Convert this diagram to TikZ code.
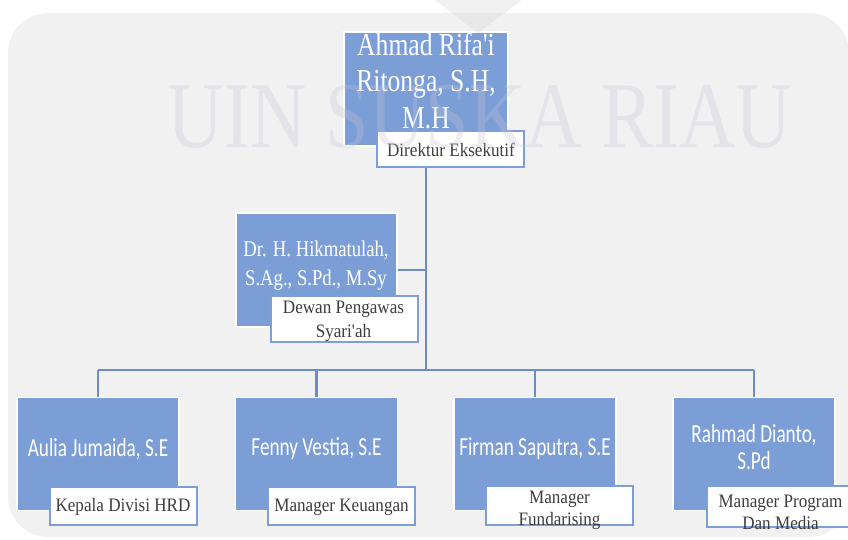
\documentclass[tikz,border=0pt]{standalone}
\usepackage{fontspec}
\newfontfamily\nameserif[FakeStretch=0.80]{Liberation Serif}
\newfontfamily\drserif[FakeStretch=0.83]{Liberation Serif}
\newfontfamily\labserif[FakeStretch=0.90]{Liberation Serif}
\newfontfamily\namesans[FakeStretch=0.74]{Carlito}
\newfontfamily\wmserif[FakeStretch=0.83]{Liberation Serif}
\definecolor{bgray}{RGB}{241,241,241}
\definecolor{boxblue}{RGB}{124,158,214}
\definecolor{linkblue}{RGB}{108,140,200}
\definecolor{labline}{RGB}{126,158,215}
\definecolor{labtext}{RGB}{62,62,62}
\definecolor{wmark}{RGB}{197,197,215}
\definecolor{wtri}{RGB}{220,220,220}
\pgfdeclarelayer{panel}
\pgfdeclarelayer{links}
\pgfsetlayers{panel,links,main}
\tikzset{
  pbox/.style={fill=boxblue, draw=white, line width=1.5pt, inner sep=0pt,
    minimum width=162pt, minimum height=113pt},
  lbox/.style={fill=white, draw=labline, line width=1.5pt, inner sep=0pt,
    minimum width=147pt},
  conn/.style={draw=linkblue, line width=2.2pt},
  nametxt/.style={text=white, align=center, inner sep=0pt},
  labtxt/.style={text=labtext, align=center, inner sep=0pt,
    font=\labserif\fontsize{19}{22}\selectfont},
  sanstxt/.style={nametxt, font=\namesans\fontsize{26}{27}\selectfont}
}
\begin{document}
\begin{tikzpicture}[x=1pt,y=-1pt]
\useasboundingbox (0,0) rectangle (848,539);
% background panel
\begin{pgfonlayer}{panel}
\fill[bgray, rounded corners=40pt] (8,13) rectangle (849,537);
\end{pgfonlayer}

\coordinate (bus) at (426,370);

% person boxes
\path (426,89) node[pbox, minimum width=164pt, minimum height=114pt] (dir) {};
\path (316.5,270) node[pbox, minimum width=161pt, minimum height=114pt] (dr) {};
\path (98,454) node[pbox] (p1) {};
\path (316.5,454) node[pbox] (p2) {};
\path (535,454) node[pbox] (p3) {};
\path (754,454) node[pbox] (p4) {};

% connectors (under the boxes)
\begin{pgfonlayer}{links}
\draw[conn] (dir.center) -- (bus);
\draw[conn] (dr.east) -- (dr.east -| bus);
\draw[conn] (p1.north |- bus) -- (p4.north |- bus);
\draw[conn] (p1.north) -- (p1.north |- bus);
\draw[conn] (p2.north) -- (p2.north |- bus);
\draw[conn] (p3.north) -- (p3.north |- bus);
\draw[conn] (p4.north) -- (p4.north |- bus);
\end{pgfonlayer}

% names
\node[nametxt, font=\nameserif\fontsize{32}{36.5}\selectfont] (dirname) at (426,80.5)
  {Ahmad Rifa'i\\Ritonga, S.H,\\M.H};
\node[nametxt, font=\drserif\fontsize{22.5}{29}\selectfont] (drname) at (316,266)
  {Dr. H. Hikmatulah,\\S.Ag., S.Pd., M.Sy};
\node[sanstxt] (p1name) at (98,449) {Aulia Jumaida, S.E};
\node[sanstxt] (p2name) at (316.5,449) {Fenny Vestia, S.E};
\node[sanstxt] (p3name) at (535,449) {Firman Saputra, S.E};
\node[sanstxt] (p4name) at (754,447) {Rahmad Dianto,\\S.Pd};

% role labels
\node[lbox, minimum height=36pt] (dirlab) at (450.5,149) {};
\node[labtxt] (dirlabt) at (451,150) {Direktur Eksekutif};
\node[lbox, minimum height=46pt] (drlab) at (344.5,319) {};
\node[labtxt, font=\labserif\fontsize{19}{24}\selectfont] (drlabt) at (343.5,321) {Dewan Pengawas\\Syari'ah};
\node[lbox, minimum height=38pt] (l1) at (123.5,506) {};
\node[labtxt] (l1t) at (123,507) {Kepala Divisi HRD};
\node[lbox, minimum height=38pt] (l2) at (341.5,506) {};
\node[labtxt] (l2t) at (341.5,507) {Manager Keuangan};
\node[lbox, minimum height=39pt] (l3) at (559.5,505.5) {};
\node[labtxt] (l3t) at (559.5,510) {Manager\\Fundarising};
\node[lbox, minimum height=41pt] (l4) at (780.5,506.5) {};
\node[labtxt] (l4t) at (780.5,512) {Manager Program\\Dan Media};

% faint watermark
\fill[wtri, opacity=0.43] (435,0) -- (522,0) -- (478,33) -- cycle;
\node[text=wmark, opacity=0.3, inner sep=0pt, anchor=base,
  font=\wmserif\fontsize{94}{94}\selectfont] (wm) at (480,147) {UIN SUSKA RIAU};
\end{tikzpicture}
\end{document}
